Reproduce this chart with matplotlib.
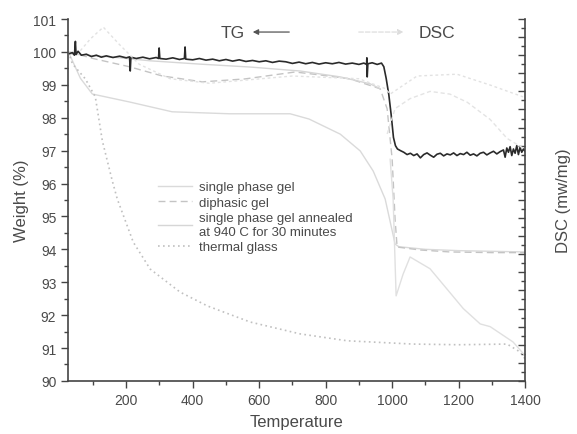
import numpy as np
import matplotlib.pyplot as plt
from matplotlib.ticker import MultipleLocator

plt.rcParams['font.family'] = ['Liberation Sans', 'DejaVu Sans']

# ---- TG curves (weight %) ----
tg_dark_t = [30, 38, 44, 47, 49, 55, 65, 80, 95, 110, 125, 140, 160, 180, 200, 210, 212, 214,
             230, 250, 270, 290, 297, 299, 301, 320, 340, 360, 375, 377, 379, 400, 420, 440,
             460, 480, 500, 520, 540, 560, 580, 600, 620, 640, 660, 680, 700, 720, 740, 760,
             780, 800, 820, 840, 860, 880, 900, 915, 923, 924, 925, 927, 940, 955, 968, 975,
             982, 990, 997, 1004, 1010, 1016, 1025, 1035, 1045, 1055, 1065, 1075, 1085, 1095,
             1105, 1115, 1125, 1135, 1145, 1155, 1165, 1175, 1185, 1195, 1205, 1215, 1225,
             1235, 1245, 1255, 1265, 1275, 1285, 1295, 1305, 1315, 1325, 1335, 1340, 1345,
             1350, 1355, 1360, 1365, 1370, 1375, 1380, 1385, 1390, 1395, 1400]
tg_dark_w = [99.95, 99.98, 99.90, 100.32, 99.92, 100.02, 99.90, 99.93, 99.86, 99.90, 99.84,
             99.88, 99.83, 99.87, 99.82, 99.85, 99.42, 99.84, 99.80, 99.84, 99.79, 99.83,
             99.80, 100.12, 99.80, 99.78, 99.82, 99.77, 99.80, 100.15, 99.78, 99.76, 99.80,
             99.75, 99.78, 99.73, 99.77, 99.72, 99.76, 99.71, 99.74, 99.70, 99.73, 99.68,
             99.72, 99.70, 99.65, 99.69, 99.64, 99.68, 99.63, 99.67, 99.64, 99.68, 99.63,
             99.66, 99.62, 99.66, 99.62, 99.82, 99.24, 99.64, 99.67, 99.62, 99.66, 99.55,
             99.20, 98.70, 98.10, 97.40, 97.15, 97.05, 97.00, 96.95, 96.88, 96.92, 96.85,
             96.90, 96.78, 96.88, 96.93, 96.86, 96.80, 96.89, 96.92, 96.84, 96.90, 96.87,
             96.93, 96.85, 96.91, 96.88, 96.95, 96.86, 96.90, 96.84, 96.92, 96.95, 96.87,
             96.93, 96.98, 96.90, 96.97, 97.02, 96.80, 97.08, 96.95, 97.12, 96.85, 97.05,
             96.92, 97.15, 96.88, 97.10, 96.95, 97.05, 96.98]

single_t = [26, 62, 98, 209, 338, 510, 693, 750, 844, 904, 943, 979, 1009, 1020, 1100, 1200, 1300, 1400]
single_w = [100.0, 99.2, 98.72, 98.48, 98.18, 98.12, 98.12, 97.96, 97.5, 96.99, 96.38, 95.53,
            94.16, 94.08, 94.0, 93.96, 93.94, 93.92]

diphasic_t = [29, 100, 209, 308, 429, 558, 708, 783, 874, 964, 985, 1000, 1009, 1015, 1084, 1174, 1300, 1400]
diphasic_w = [100.0, 99.8, 99.55, 99.27, 99.09, 99.18, 99.39, 99.3, 99.18, 98.88, 98.27, 96.75,
              94.9, 94.07, 93.98, 93.92, 93.9, 93.9]

annealed_t = [29, 150, 272, 420, 573, 723, 844, 934, 964]
annealed_w = [99.94, 99.85, 99.73, 99.63, 99.54, 99.42, 99.24, 99.03, 98.88]

glass_t = [26, 38, 77, 107, 128, 158, 173, 221, 272, 362, 444, 573, 723, 865, 1063, 1200, 1346, 1385, 1400]
glass_w = [100.0, 99.64, 99.18, 98.63, 97.3, 96.08, 95.53, 94.22, 93.4, 92.7, 92.28, 91.79,
           91.43, 91.22, 91.12, 91.1, 91.12, 90.88, 90.67]

# ---- DSC curves (right axis, unlabelled scale) ----
dsc1_t = [62, 92, 131, 179, 239, 332, 450, 700, 900, 980, 994, 1075, 1195, 1295, 1394]
dsc1_v = [-0.35, -0.22, -0.09, -0.28, -0.50, -0.66, -0.71, -0.63, -0.66, -0.77, -0.83,
          -0.63, -0.61, -0.73, -0.86]
dsc2_t = [985, 1009, 1054, 1114, 1174, 1226, 1295, 1346, 1400]
dsc2_v = [-1.27, -0.99, -0.88, -0.80, -0.83, -0.92, -1.11, -1.32, -1.44]
dsc3_t = [994, 1003, 1012, 1033, 1054, 1114, 1214, 1265, 1295, 1364, 1400]
dsc3_v = [-1.55, -1.99, -3.06, -2.82, -2.63, -2.76, -3.20, -3.37, -3.40, -3.57, -3.72]

txt = '#4a4a4a'
fig = plt.figure(figsize=(5.77, 4.35), dpi=100)
ax = fig.add_axes([0.118, 0.122, 0.792, 0.832])

ax.plot(single_t, single_w, color='#dadada', lw=1.0, label='single phase gel')
ax.plot(diphasic_t, diphasic_w, color='#c4c4c4', lw=1.0, ls=(0, (5, 3)), label='diphasic gel')
ax.plot(annealed_t, annealed_w, color='#d6d6d6', lw=1.0,
        label='single phase gel annealed\nat 940 C for 30 minutes')
ax.plot(glass_t, glass_w, color='#c0c0c0', lw=1.2, ls=(0, (1, 2)), label='thermal glass')
ax.plot(tg_dark_t, tg_dark_w, color='#2a2a2a', lw=1.2)

ax.set_xlim(25, 1400)
ax.set_ylim(90, 101)
ax.xaxis.set_major_locator(MultipleLocator(200))
ax.xaxis.set_minor_locator(MultipleLocator(100))
ax.yaxis.set_major_locator(MultipleLocator(1))
ax.yaxis.set_minor_locator(MultipleLocator(0.5))
ax.set_xticks([200, 400, 600, 800, 1000, 1200, 1400])
ax.tick_params(which='both', direction='out', colors='#444444', labelcolor=txt, labelsize=10)
ax.tick_params(which='major', length=5, width=1)
ax.tick_params(which='minor', length=3, width=1)
ax.spines['top'].set_visible(False)
ax.spines['right'].set_visible(False)
for s in ['left', 'bottom']:
    ax.spines[s].set_color('#444444')
    ax.spines[s].set_linewidth(1.2)
ax.set_xlabel('Temperature', fontsize=12, color=txt, labelpad=5)
ax.set_ylabel('Weight (%)', fontsize=12, color=txt, labelpad=3)

ax2 = ax.twinx()
ax2.plot(dsc1_t, dsc1_v, color='#e2e2e2', lw=1.0, ls=(0, (2, 2)))
ax2.plot(dsc2_t, dsc2_v, color='#e4e4e4', lw=1.0, ls=(0, (3, 2)))
ax2.plot(dsc3_t, dsc3_v, color='#e0e0e0', lw=1.0)
ax2.set_ylim(-4.0, 0.0)
ax2.yaxis.set_major_locator(MultipleLocator(0.2))
ax2.yaxis.set_minor_locator(MultipleLocator(0.1))
ax2.tick_params(which='both', direction='in', colors='#444444', labelright=False)
ax2.tick_params(which='major', length=5, width=1)
ax2.tick_params(which='minor', length=3, width=1)
ax2.spines['top'].set_visible(False)
ax2.spines['left'].set_visible(False)
ax2.spines['bottom'].set_visible(False)
ax2.spines['right'].set_color('#444444')
ax2.spines['right'].set_linewidth(1.2)
ax2.set_ylabel('DSC (mw/mg)', fontsize=12, color=txt, labelpad=22)

ax.legend(loc='upper left', bbox_to_anchor=(0.17, 0.585), frameon=False, fontsize=9.5,
          handlelength=2.6, labelspacing=0.25, handletextpad=0.5, labelcolor=txt)

ax.text(0.361, 0.964, 'TG', transform=ax.transAxes, ha='center', va='center',
        fontsize=12.5, color=txt)
ax.annotate('', xy=(0.398, 0.964), xytext=(0.49, 0.964), xycoords='axes fraction',
            arrowprops=dict(arrowstyle='-|>', color='#555555', lw=0.9, mutation_scale=8))
ax.text(0.807, 0.964, 'DSC', transform=ax.transAxes, ha='center', va='center',
        fontsize=12.5, color=txt)
ax.annotate('', xy=(0.74, 0.964), xytext=(0.63, 0.964), xycoords='axes fraction',
            arrowprops=dict(arrowstyle='-|>', color='#dddddd', lw=0.9, ls='--', mutation_scale=8))

fig.savefig('out.png', dpi=100)
